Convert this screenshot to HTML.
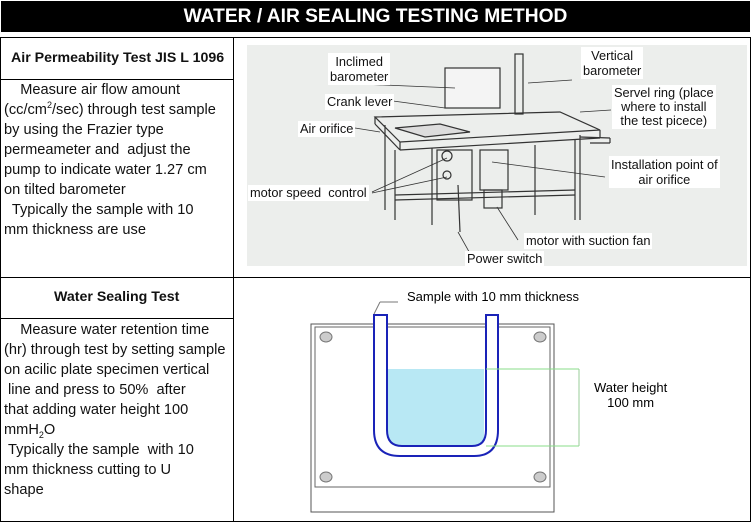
<!DOCTYPE html>
<html><head><meta charset="utf-8"><style>
body{margin:0;width:751px;height:523px;background:#fff;position:relative;overflow:hidden;font-family:"Liberation Sans",Arial,sans-serif;}
.a{position:absolute}
.t{font-size:14.6px;line-height:20px;color:#111;white-space:nowrap}
.lb{position:absolute;background:#fff;font-size:12.8px;line-height:14px;color:#111;text-align:center;white-space:nowrap;padding:1px 2px}
</style></head><body>
<div class="a" style="left:1px;top:1px;width:749px;height:31px;background:#000;color:#fff;font-weight:bold;font-size:19.2px;line-height:31px;text-align:center">WATER / AIR SEALING TESTING METHOD</div>
<div class="a" style="left:0;top:37px;width:749px;height:483px;border:1px solid #000"></div>
<div class="a" style="left:233px;top:37px;width:1px;height:485px;background:#000"></div>
<div class="a" style="left:0;top:79px;width:234px;height:1px;background:#000"></div>
<div class="a" style="left:0;top:277px;width:751px;height:1px;background:#000"></div>
<div class="a" style="left:0;top:318px;width:234px;height:1px;background:#000"></div>
<div class="a t" style="left:11px;top:48px;font-weight:bold;font-size:14.2px">Air Permeability Test JIS L 1096</div>
<div class="a t" style="left:54px;top:287px;font-weight:bold;font-size:14.2px">Water Sealing Test</div>
<div class="a t" style="left:4px;top:80px">&nbsp;&nbsp;&nbsp; Measure air flow amount<br>(cc/cm<sup style="font-size:9px;line-height:0">2</sup>/sec) through test sample<br>by using the Frazier type<br>permeameter and&nbsp; adjust the<br>pump to indicate water 1.27 cm<br>on tilted barometer<br>&nbsp; Typically the sample with 10<br>mm thickness are use</div>
<div class="a t" style="left:4px;top:320px">&nbsp;&nbsp;&nbsp; Measure water retention time<br>(hr) through test by setting sample<br>on acilic plate specimen vertical<br>&nbsp;line and press to 50%&nbsp; after<br>that adding water height 100<br>mmH<sub style="font-size:9px;line-height:0">2</sub>O<br>&nbsp;Typically the sample&nbsp; with 10<br>mm thickness cutting to U<br>shape</div>

<svg class="a" style="left:0;top:0" width="751" height="523">
<rect x="247" y="45" width="500" height="221" fill="#eceeec"/>
<g stroke="#333" stroke-width="1.2" fill="none">
<polygon points="375,117 560,112 600,130 400,142"/>
<line x1="400" y1="142" x2="400" y2="150"/><line x1="600" y1="130" x2="600" y2="138"/><line x1="375" y1="117" x2="375" y2="124"/>
<line x1="375" y1="124" x2="400" y2="150"/><line x1="400" y1="150" x2="600" y2="138"/>
<rect x="445" y="68" width="55" height="40" fill="#f4f4f4"/>
<rect x="515" y="54" width="8" height="60"/>
<line x1="385" y1="125" x2="385" y2="210"/><line x1="395" y1="150" x2="395" y2="220"/>
<line x1="432" y1="148" x2="432" y2="225"/><line x1="535" y1="145" x2="535" y2="215"/>
<line x1="575" y1="140" x2="575" y2="220"/><line x1="580" y1="135" x2="580" y2="220"/>
<rect x="437" y="150" width="35" height="50"/>
<rect x="480" y="150" width="28" height="40"/>
<rect x="484" y="190" width="18" height="18"/>
<line x1="395" y1="195" x2="575" y2="190"/><line x1="395" y1="200" x2="575" y2="195"/>
<circle cx="447" cy="156" r="5"/><circle cx="447" cy="175" r="4"/>
<polygon points="395,128 440,124 470,132 425,137" fill="#ddd"/>
<line x1="580" y1="137" x2="610" y2="138"/><line x1="610" y1="138" x2="610" y2="143"/><line x1="590" y1="143" x2="610" y2="143"/>
<line x1="458" y1="185" x2="460" y2="232"/>
</g>
<g stroke="#333" stroke-width="0.8" fill="none">
<line x1="360" y1="84" x2="455" y2="88"/><line x1="393" y1="101" x2="445" y2="108"/>
<line x1="355" y1="128" x2="380" y2="132"/><line x1="528" y1="83" x2="572" y2="80"/>
<line x1="580" y1="112" x2="611" y2="110"/><line x1="492" y1="162" x2="605" y2="177"/>
<line x1="372" y1="192" x2="447" y2="158"/><line x1="372" y1="193" x2="447" y2="177"/>
<line x1="497" y1="207" x2="518" y2="240"/><line x1="458" y1="232" x2="472" y2="257"/>
</g>
<rect x="311" y="324" width="243" height="188" fill="#fff" stroke="#555"/>
<rect x="315" y="327" width="235" height="160" fill="#fff" stroke="#666"/>
<g fill="#ccc" stroke="#777"><ellipse cx="326" cy="337" rx="6" ry="5"/><ellipse cx="540" cy="337" rx="6" ry="5"/><ellipse cx="326" cy="477" rx="6" ry="5"/><ellipse cx="540" cy="477" rx="6" ry="5"/></g>
<rect x="387" y="369" width="97" height="80" fill="#b8e8f4"/>
<path d="M374,315 V430 Q374,456 400,456 H474 Q498,456 498,430 V315 H486 V430 Q486,446 472,446 H402 Q387,446 387,430 V315 Z" fill="#fff" stroke="#1a23b8" stroke-width="2"/>
<line x1="374" y1="314" x2="380" y2="302" stroke="#777"/><line x1="380" y1="302" x2="398" y2="302" stroke="#777"/>
<line x1="486" y1="369" x2="579" y2="369" stroke="#8d8"/><line x1="486" y1="446" x2="579" y2="446" stroke="#8d8"/>
<line x1="579" y1="369" x2="579" y2="446" stroke="#9c9"/>
</svg>
<div class="lb" style="left:328px;top:53px;line-height:15px">Inclimed<br>barometer</div>
<div class="lb" style="left:325px;top:94px">Crank lever</div>
<div class="lb" style="left:298px;top:121px">Air orifice</div>
<div class="lb" style="left:248px;top:185px">motor speed&nbsp; control</div>
<div class="lb" style="left:581px;top:47px;line-height:15px">Vertical<br>barometer</div>
<div class="lb" style="left:612px;top:85px;line-height:14px">Servel ring (place<br>where to install<br>the test picece)</div>
<div class="lb" style="left:609px;top:156px;line-height:15px">Installation point of<br>air orifice</div>
<div class="lb" style="left:524px;top:233px">motor with suction fan</div>
<div class="lb" style="left:465px;top:251px">Power switch</div>
<div class="a" style="left:407px;top:289px;font-size:13px">Sample with 10 mm thickness</div>
<div class="a" style="left:594px;top:380px;font-size:13px;line-height:15px;text-align:center">Water height<br>100 mm</div>
</body></html>
